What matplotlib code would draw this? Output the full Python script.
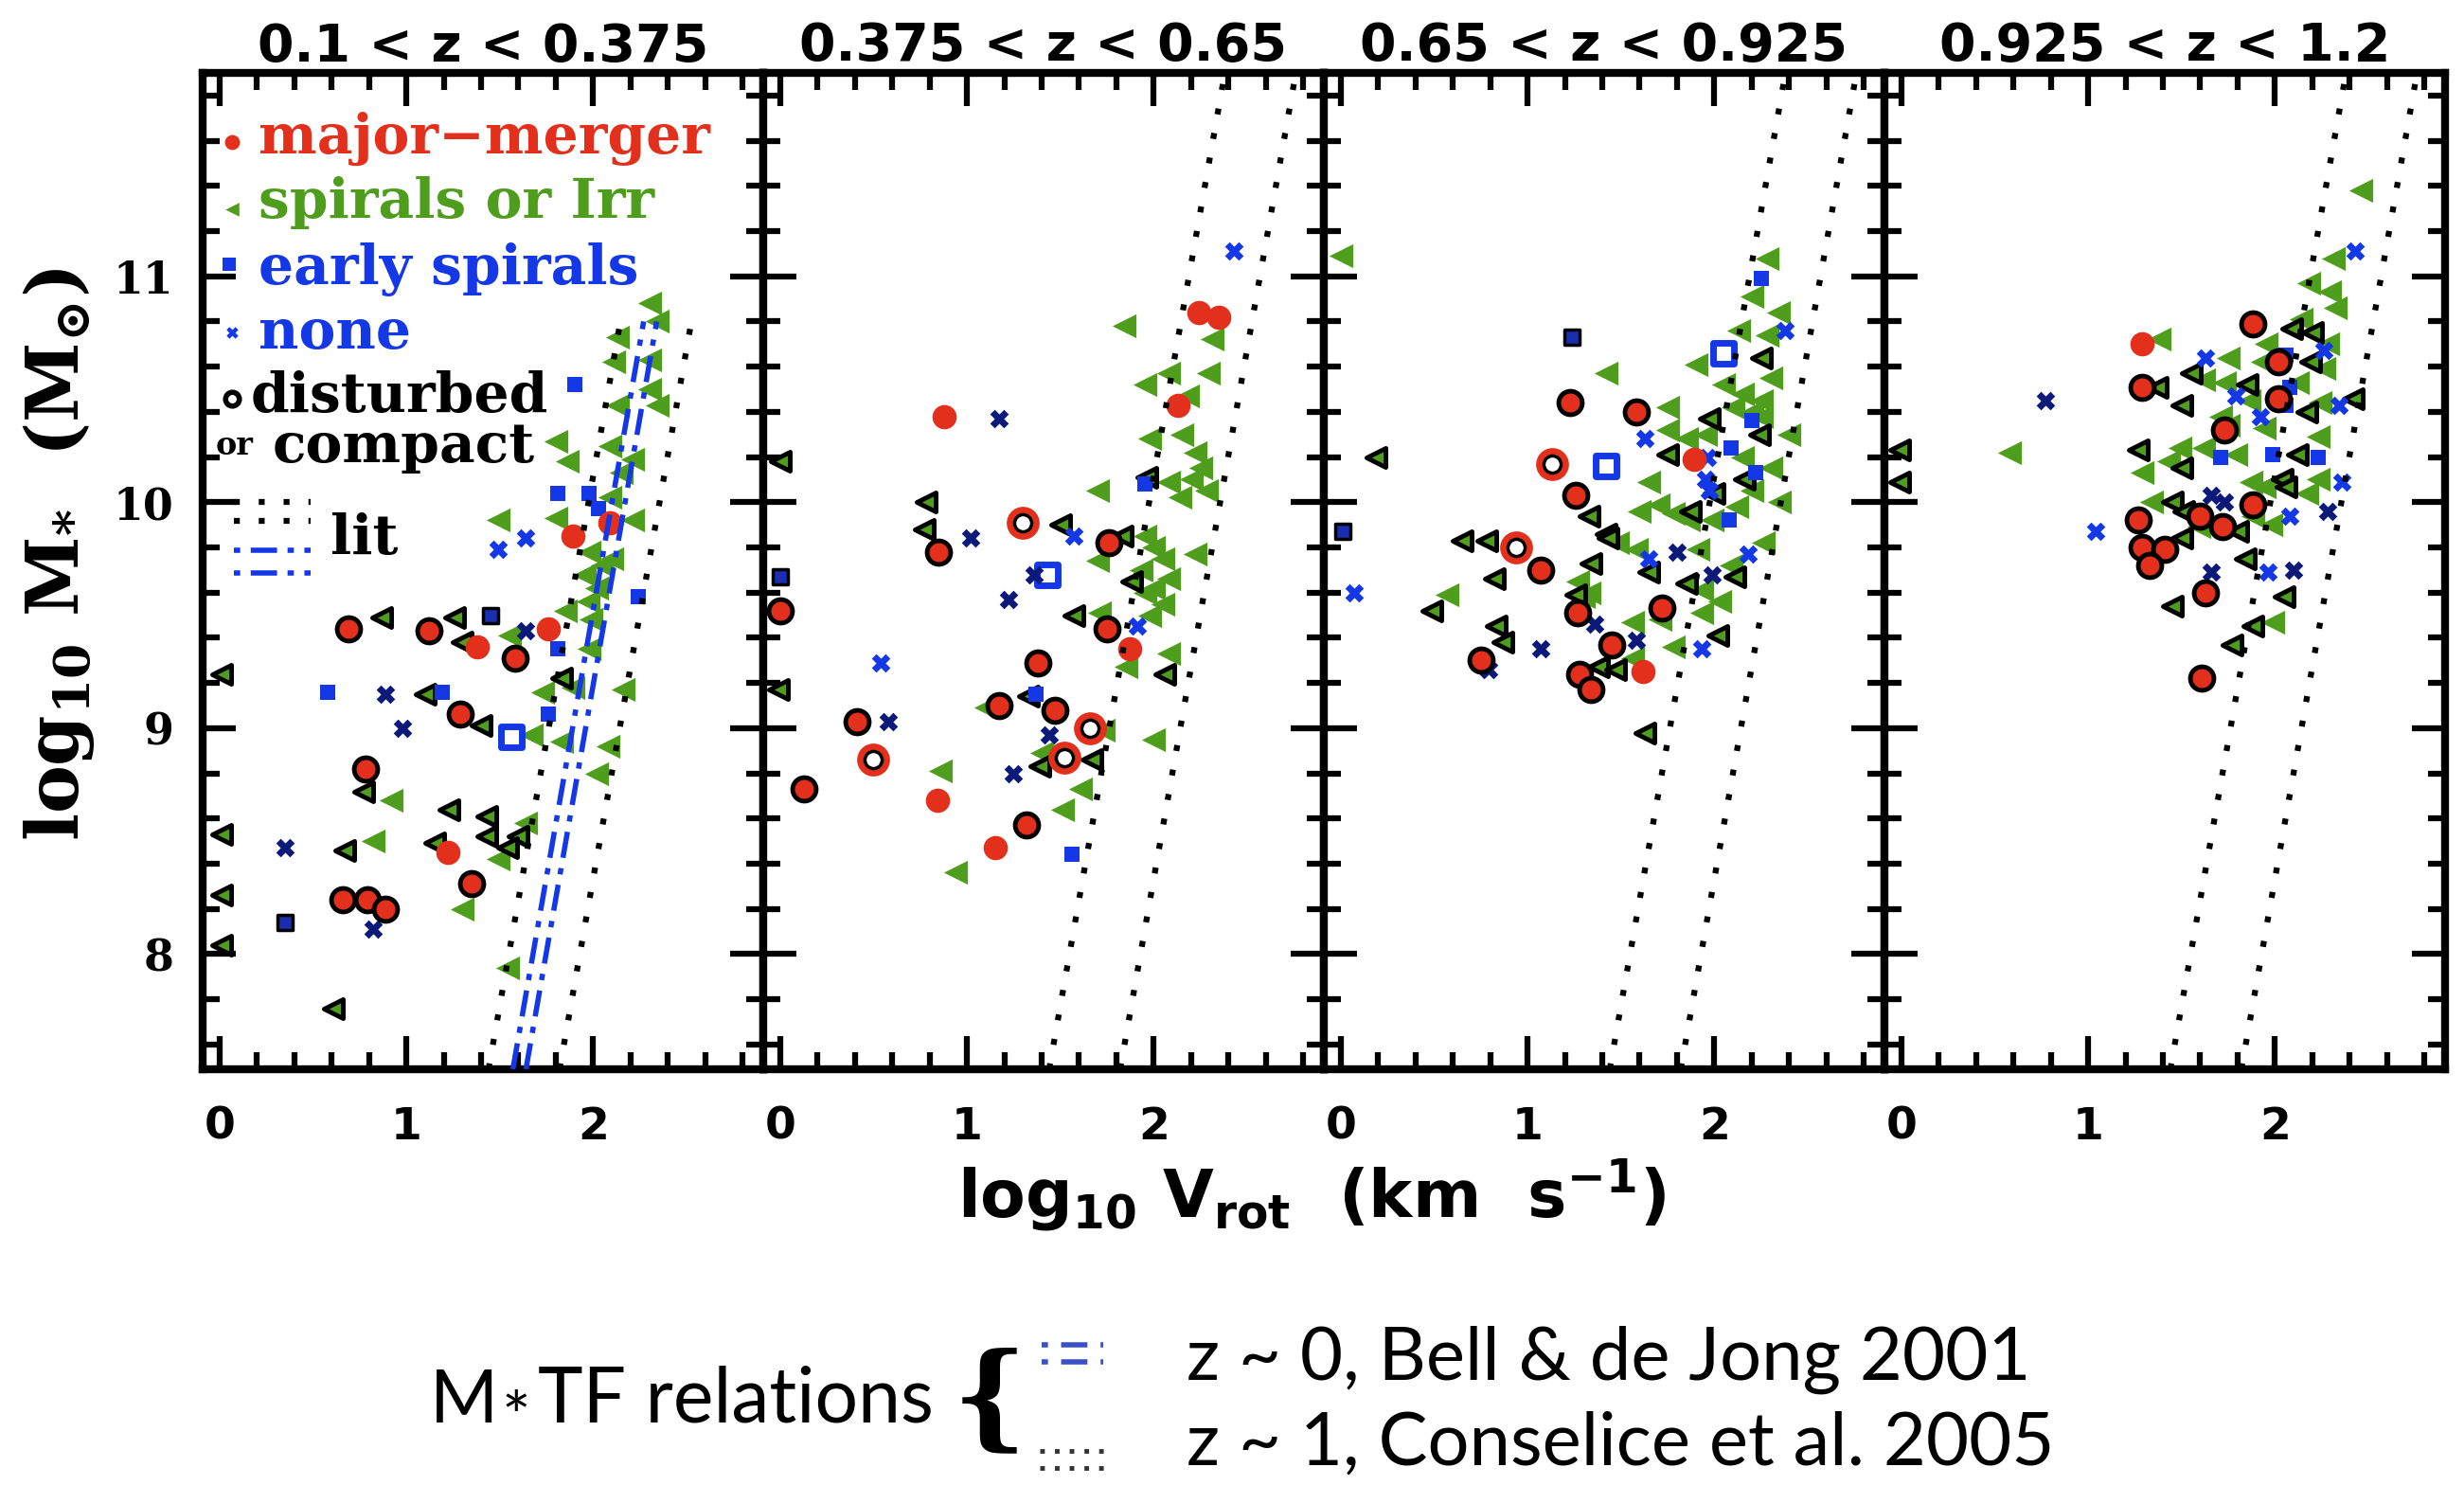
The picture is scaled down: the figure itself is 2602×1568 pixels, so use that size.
import matplotlib
matplotlib.use('Agg')
import matplotlib.pyplot as plt
from matplotlib.lines import Line2D
from matplotlib.ticker import MultipleLocator

plt.rcParams['mathtext.fontset'] = 'custom'
plt.rcParams['mathtext.rm'] = 'DejaVu Serif:bold'
plt.rcParams['mathtext.it'] = 'DejaVu Serif:bold'
plt.rcParams['mathtext.bf'] = 'DejaVu Serif:bold'
plt.rcParams['mathtext.sf'] = 'DejaVu Sans:bold'

# ---- data: (log10 Vrot, log10 M*) ----
titles = ['0.1 < z < 0.375', '0.375 < z < 0.65',
          '0.65 < z < 0.925', '0.925 < z < 1.2']

# z bin 1
merger_1 = [(1.76, 9.44), (1.38, 9.36), (1.22, 8.45), (2.09, 9.91), (1.89, 9.85)]
merger_d_1 = [(0.69, 9.44), (1.12, 9.43), (1.58, 9.31), (1.29, 9.06), (0.78, 8.82),
              (1.35, 8.31), (0.66, 8.24), (0.79, 8.24), (0.89, 8.20)]
ring_1 = []
spiral_1 = [(2.30, 10.88), (2.34, 10.80), (2.13, 10.73), (2.11, 10.62), (2.30, 10.63),
            (2.30, 10.50), (2.13, 10.43), (2.34, 10.43), (1.80, 10.27), (2.09, 10.25),
            (2.21, 10.19), (2.15, 10.13), (1.86, 10.18), (2.09, 10.02), (1.49, 9.92),
            (1.80, 9.93), (2.21, 9.92), (1.98, 9.78), (2.05, 9.72), (2.10, 9.75),
            (1.95, 9.68), (2.02, 9.62), (1.97, 9.56), (1.85, 9.52), (1.99, 9.48),
            (1.55, 9.41), (1.98, 9.35), (1.73, 9.16), (1.89, 9.18), (2.16, 9.17),
            (1.67, 8.97), (1.83, 8.94), (2.08, 8.92), (2.02, 8.80), (0.92, 8.68),
            (1.64, 8.58), (0.82, 8.50), (1.49, 8.42), (1.30, 8.20), (1.54, 7.94)]
spiral_d_1 = [(0.87, 9.49), (1.26, 9.49), (1.30, 9.38), (0.01, 9.24), (1.83, 9.22),
              (1.10, 9.15), (1.40, 9.01), (0.77, 8.72), (1.23, 8.64), (1.43, 8.61),
              (1.43, 8.52), (1.60, 8.52), (0.01, 8.53), (0.67, 8.46), (1.15, 8.49),
              (1.54, 8.47), (0.01, 8.26), (0.01, 8.04), (0.61, 7.76)]
early_1 = [(1.90, 10.52), (1.81, 10.04), (1.98, 10.04), (2.03, 9.97), (2.24, 9.58),
           (1.81, 9.35), (0.58, 9.16), (1.19, 9.16), (1.76, 9.06)]
early_d_1 = [(1.45, 9.50), (0.35, 8.14)]
early_open_1 = [(1.56, 8.96)]
none_1 = [(1.49, 9.79), (1.64, 9.84)]
none_d_1 = [(1.64, 9.43), (0.89, 9.15), (0.98, 9.00), (0.35, 8.47), (0.82, 8.11)]

# z bin 2
merger_2 = [(2.24, 10.84), (2.35, 10.82), (2.13, 10.43), (0.88, 10.38), (1.87, 9.35),
            (0.84, 8.68), (1.15, 8.47)]
merger_d_2 = [(1.76, 9.82), (0.85, 9.78), (0.00, 9.52), (1.75, 9.44), (1.38, 9.29),
              (1.17, 9.10), (1.47, 9.08), (0.41, 9.03), (0.13, 8.73), (1.32, 8.57)]
ring_2 = [(1.30, 9.91), (1.66, 9.00), (0.50, 8.86), (1.52, 8.87)]
spiral_2 = [(1.84, 10.78), (2.31, 10.72), (2.08, 10.57), (2.29, 10.57), (1.95, 10.52),
            (2.18, 10.47), (1.98, 10.28), (2.15, 10.30), (2.22, 10.22), (2.25, 10.15),
            (2.20, 10.10), (2.28, 10.05), (1.70, 10.05), (2.08, 10.09), (2.14, 10.02),
            (1.95, 9.85), (2.00, 9.80), (2.05, 9.75), (1.93, 9.70), (2.08, 9.66),
            (2.00, 9.62), (1.70, 9.74), (2.22, 9.77), (1.95, 9.60), (2.05, 9.55),
            (1.98, 9.50), (1.71, 9.51), (1.85, 9.27), (2.08, 9.33), (1.10, 9.09),
            (1.73, 8.99), (2.00, 8.95), (1.40, 8.89), (0.86, 8.81), (1.61, 8.73),
            (1.51, 8.64), (0.94, 8.36)]
spiral_d_2 = [(0.00, 10.18), (1.96, 10.11), (0.78, 10.00), (1.50, 9.90), (0.77, 9.88),
              (1.83, 9.85), (1.88, 9.65), (1.57, 9.50), (2.06, 9.24), (-0.01, 9.17),
              (1.33, 9.14), (1.67, 8.86), (1.39, 8.83)]
early_2 = [(1.95, 10.08), (1.37, 9.15), (1.56, 8.44)]
early_d_2 = [(0.00, 9.67)]
early_open_2 = [(1.43, 9.68)]
none_2 = [(2.43, 11.11), (1.57, 9.85), (1.91, 9.45), (0.54, 9.29)]
none_d_2 = [(1.17, 10.37), (1.02, 9.84), (1.36, 9.68), (1.22, 9.57), (0.58, 9.03),
            (1.44, 8.97), (1.25, 8.80)]

# z bin 3
merger_3 = [(1.89, 10.19), (1.62, 9.25)]
merger_d_3 = [(1.23, 10.44), (1.58, 10.40), (1.26, 10.03), (1.07, 9.70), (1.27, 9.51),
              (1.45, 9.37), (1.72, 9.53), (0.75, 9.30), (1.28, 9.24), (1.34, 9.17)]
ring_3 = [(1.13, 10.17), (0.94, 9.80)]
spiral_3 = [(0.00, 11.09), (2.28, 11.08), (2.20, 10.91), (2.34, 10.84), (2.13, 10.76),
            (2.28, 10.74), (1.90, 10.61), (1.42, 10.57), (2.05, 10.52), (2.15, 10.48),
            (2.25, 10.45), (2.20, 10.40), (2.10, 10.42), (2.30, 10.55), (2.25, 10.38),
            (1.75, 10.42), (1.75, 10.32), (1.85, 10.28), (1.95, 10.30), (2.40, 10.30),
            (2.15, 10.20), (2.30, 10.15), (2.20, 10.05), (2.35, 10.00), (2.12, 9.98),
            (1.65, 10.09), (1.60, 9.96), (1.78, 9.95), (1.70, 9.99), (1.86, 9.92),
            (1.99, 9.92), (1.48, 9.82), (1.58, 9.79), (1.91, 9.79), (2.26, 9.82),
            (2.09, 9.72), (0.57, 9.59), (1.27, 9.65), (1.33, 9.60), (1.30, 9.58),
            (1.56, 9.47), (1.71, 9.48), (1.56, 9.31), (1.78, 9.36), (1.93, 9.61),
            (2.03, 9.56), (1.93, 9.51)]
spiral_d_3 = [(2.25, 10.64), (1.97, 10.37), (2.24, 10.30), (1.75, 10.21), (0.19, 10.20),
              (2.16, 10.10), (2.00, 10.04), (1.33, 9.94), (1.87, 9.96), (1.42, 9.86),
              (0.65, 9.83), (0.78, 9.83), (0.82, 9.66), (0.49, 9.52), (1.34, 9.73),
              (1.26, 9.59), (0.83, 9.45), (0.87, 9.38), (1.38, 9.27), (1.47, 9.26),
              (2.02, 9.41), (1.85, 9.64), (2.11, 9.67), (1.65, 9.69), (1.43, 9.84),
              (1.63, 8.98)]
early_3 = [(2.25, 10.99), (2.20, 10.36), (2.09, 10.24), (2.22, 10.13), (2.08, 9.92)]
early_d_3 = [(1.24, 10.73), (0.01, 9.87)]
early_open_3 = [(2.05, 10.66), (1.42, 10.16)]
none_3 = [(2.38, 10.76), (1.63, 10.28), (1.96, 10.20), (1.95, 10.10), (1.97, 10.05),
          (1.65, 9.75), (2.18, 9.77), (0.07, 9.60), (1.93, 9.35)]
none_d_3 = [(1.80, 9.78), (1.36, 9.46), (1.07, 9.35), (0.79, 9.26), (1.58, 9.39),
            (1.99, 9.68)]

# z bin 4
merger_4 = [(1.29, 10.70)]
merger_d_4 = [(1.88, 10.79), (2.02, 10.62), (1.29, 10.51), (2.02, 10.46), (1.73, 10.32),
              (1.88, 9.99), (1.27, 9.92), (1.72, 9.89), (1.60, 9.94), (1.29, 9.80),
              (1.41, 9.79), (1.33, 9.72), (1.63, 9.60), (1.61, 9.22)]
ring_4 = []
spiral_4 = [(2.46, 11.38), (2.31, 11.08), (2.18, 10.97), (2.29, 10.93), (2.32, 10.86),
            (2.14, 10.81), (1.38, 10.72), (1.75, 10.64), (1.93, 10.62), (1.95, 10.70),
            (2.28, 10.70), (2.26, 10.59), (1.62, 10.54), (1.73, 10.53), (2.12, 10.53),
            (1.86, 10.45), (2.24, 10.44), (1.71, 10.38), (1.75, 10.34), (1.94, 10.33),
            (2.23, 10.29), (0.58, 10.22), (1.49, 10.24), (1.43, 10.18), (1.62, 10.24),
            (1.79, 10.21), (1.29, 10.13), (1.87, 10.09), (1.94, 10.07), (2.23, 10.10),
            (2.17, 10.04), (1.34, 10.00), (1.88, 9.94), (1.98, 9.90), (1.59, 9.89),
            (1.99, 9.47)]
spiral_d_4 = [(2.09, 10.77), (2.20, 10.75), (2.19, 10.62), (1.55, 10.57), (1.37, 10.51),
              (1.85, 10.52), (1.50, 10.43), (2.42, 10.46), (2.17, 10.40), (-0.01, 10.23),
              (-0.01, 10.09), (1.27, 10.23), (2.12, 10.21), (1.50, 10.15), (2.04, 10.10),
              (2.06, 10.07), (1.45, 10.00), (1.51, 9.96), (1.80, 9.87), (1.50, 9.84),
              (1.84, 9.75), (2.05, 9.58), (1.45, 9.54), (1.88, 9.45), (1.77, 9.37)]
early_4 = [(2.06, 10.65), (2.08, 10.51), (2.06, 10.43), (1.71, 10.20), (1.99, 10.21),
           (2.23, 10.20)]
early_d_4 = []
early_open_4 = []
none_4 = [(2.43, 11.11), (1.63, 10.64), (2.26, 10.67), (1.79, 10.47), (2.34, 10.43),
          (1.92, 10.38), (2.36, 10.09), (2.08, 9.94), (1.04, 9.87), (1.96, 9.69)]
none_d_4 = [(0.77, 10.45), (1.66, 10.03), (1.73, 10.00), (2.28, 9.96), (2.10, 9.70),
            (1.66, 9.69)]

# TF relations: endpoints (logV, logM)
conselice_lo = [(1.44, 7.49), (2.38, 11.90)]
conselice_hi = [(1.82, 7.49), (2.76, 11.90)]
conselice_top_bin1 = 10.8
bell_lo = [(1.57, 7.49), (2.27, 10.80)]
bell_hi = [(1.64, 7.49), (2.34, 10.80)]

panels = [
    (merger_1, merger_d_1, ring_1, spiral_1, spiral_d_1, early_1, early_d_1, early_open_1, none_1, none_d_1),
    (merger_2, merger_d_2, ring_2, spiral_2, spiral_d_2, early_2, early_d_2, early_open_2, none_2, none_d_2),
    (merger_3, merger_d_3, ring_3, spiral_3, spiral_d_3, early_3, early_d_3, early_open_3, none_3, none_d_3),
    (merger_4, merger_d_4, ring_4, spiral_4, spiral_d_4, early_4, early_d_4, early_open_4, none_4, none_d_4),
]

RED = '#e2301c'
GREEN = '#4f9d1d'
BLUE = '#1438e6'
NAVY = '#0b1a78'

W, H = 2602, 1568
fig = plt.figure(figsize=(W / 100, H / 100), dpi=100)


def pts(ax, data, **kw):
    if len(data) == 0:
        return
    v = [p[0] for p in data]
    m = [p[1] for p in data]
    ax.scatter(v, m, **kw)


def seg_line(ax, ends, ymax=None, **kw):
    (x0, y0), (x1, y1) = ends
    if ymax is not None:
        x1 = x0 + (x1 - x0) * (ymax - y0) / (y1 - y0)
        y1 = ymax
    ax.plot([x0, x1], [y0, y1], **kw)


lefts = [214, 806, 1398, 1990]
for k in range(4):
    ax = fig.add_axes([lefts[k] / W, 1 - 1129 / H, 592 / W, 1052 / H])
    merger, merger_d, ring, spiral, spiral_d, early, early_d, early_open, none, none_d = panels[k]

    pts(ax, spiral, marker='<', s=330, c=GREEN, linewidths=0, zorder=3)
    pts(ax, spiral_d, marker='<', s=210, c=GREEN, edgecolors='black', linewidths=3.5, zorder=3)
    pts(ax, early, marker='s', s=140, c=BLUE, linewidths=0, zorder=4)
    pts(ax, early_d, marker='s', s=130, c='#1a2fb0', edgecolors='black', linewidths=2.5, zorder=4)
    pts(ax, early_open, marker='s', s=240, c='white', edgecolors=BLUE, linewidths=5, zorder=4)
    pts(ax, none, marker='X', s=200, c=BLUE, linewidths=0, zorder=4)
    pts(ax, none_d, marker='X', s=200, c=NAVY, linewidths=0, zorder=4)
    pts(ax, merger, marker='o', s=340, c=RED, linewidths=0, zorder=5)
    pts(ax, merger_d, marker='o', s=320, c=RED, edgecolors='black', linewidths=3.5, zorder=5)
    pts(ax, ring, marker='o', s=400, c='white', edgecolors=RED, linewidths=5, zorder=5)
    pts(ax, ring, marker='o', s=170, c='white', edgecolors='black', linewidths=2.5, zorder=5)

    dot = dict(color='black', lw=4.5, linestyle=(0, (1, 3.2)), zorder=6)
    if k == 0:
        seg_line(ax, conselice_lo, conselice_top_bin1, **dot)
        seg_line(ax, conselice_hi, conselice_top_bin1, **dot)
        dash = dict(color=BLUE, lw=4, linestyle=(0, (5, 2, 1.2, 2)), zorder=6)
        seg_line(ax, bell_lo, **dash)
        seg_line(ax, bell_hi, **dash)
    else:
        seg_line(ax, conselice_lo, **dot)
        seg_line(ax, conselice_hi, **dot)

    ax.set_xlim(-0.09, 2.91)
    ax.set_ylim(7.49, 11.90)
    ax.xaxis.set_major_locator(MultipleLocator(1))
    ax.xaxis.set_minor_locator(MultipleLocator(0.2))
    ax.yaxis.set_major_locator(MultipleLocator(1))
    ax.yaxis.set_minor_locator(MultipleLocator(0.2))
    ax.tick_params(which='both', direction='in', top=True, right=True, width=4.5)
    ax.tick_params(which='major', length=25)
    ax.tick_params(which='minor', length=13)
    ax.tick_params(axis='x', pad=28, labelsize=34)
    ax.tick_params(axis='y', pad=22, labelsize=33)
    for lab in ax.get_xticklabels():
        lab.set_fontfamily('DejaVu Sans')
        lab.set_fontweight('bold')
    if k == 0:
        ax.set_yticks([8, 9, 10, 11])
        ax.set_yticklabels(['8', '9', '10', '11'], fontfamily='DejaVu Serif', fontweight='bold')
    else:
        ax.set_yticklabels([])
    for sp in ax.spines.values():
        sp.set_linewidth(6)
    ax.set_title(titles[k], fontsize=40, fontweight='bold', fontfamily='DejaVu Sans', pad=9)

    if k == 0:
        tr = ax.transAxes
        lfs = 42
        ax.scatter([0.052], [0.931], transform=tr, marker='o', s=130, c=RED, linewidths=0, clip_on=False)
        ax.text(0.100, 0.919, 'major\u2212merger', transform=tr, color=RED, fontsize=lfs,
                fontweight='bold', fontfamily='DejaVu Serif', va='baseline')
        ax.scatter([0.052], [0.863], transform=tr, marker='<', s=110, c=GREEN, linewidths=0, clip_on=False)
        ax.text(0.100, 0.855, 'spirals or Irr', transform=tr, color=GREEN, fontsize=lfs,
                fontweight='bold', fontfamily='DejaVu Serif', va='baseline')
        ax.scatter([0.048], [0.808], transform=tr, marker='s', s=90, c=BLUE, linewidths=0, clip_on=False)
        ax.text(0.100, 0.788, 'early spirals', transform=tr, color=BLUE, fontsize=lfs,
                fontweight='bold', fontfamily='DejaVu Serif', va='baseline')
        ax.scatter([0.052], [0.740], transform=tr, marker='X', s=80, c=BLUE, linewidths=0, clip_on=False)
        ax.text(0.100, 0.723, 'none', transform=tr, color=BLUE, fontsize=lfs,
                fontweight='bold', fontfamily='DejaVu Serif', va='baseline')
        ax.scatter([0.052], [0.673], transform=tr, marker='o', s=110, c='white', edgecolors='black',
                   linewidths=4, clip_on=False)
        ax.text(0.085, 0.660, 'disturbed', transform=tr, color='black', fontsize=lfs,
                fontweight='bold', fontfamily='DejaVu Serif', va='baseline')
        ax.text(0.056, 0.617, 'or', transform=tr, color='black', fontsize=24, ha='center',
                fontweight='bold', fontfamily='DejaVu Serif', va='baseline')
        ax.text(0.125, 0.609, 'compact', transform=tr, color='black', fontsize=lfs,
                fontweight='bold', fontfamily='DejaVu Serif', va='baseline')
        for yy in (0.569, 0.550):
            ax.plot([0.056, 0.193], [yy, yy], transform=tr, color='black', lw=4.5,
                    linestyle=(0, (1, 3.2)), clip_on=False)
        for yy in (0.521, 0.498):
            ax.plot([0.056, 0.193], [yy, yy], transform=tr, color=BLUE, lw=4,
                    linestyle=(0, (1.2, 2, 5, 2)), clip_on=False)
        ax.text(0.228, 0.517, 'lit', transform=tr, color='black', fontsize=lfs,
                fontweight='bold', fontfamily='DejaVu Serif', va='baseline')

fig.text(1385 / W, 1 - 1262 / H, r'$\mathsf{log_{10}\ V_{rot}\ \ (km\ \ s^{-1})}$',
         fontsize=50, ha='center', va='center')
fig.text(62 / W, 1 - 585 / H, r'$\mathrm{log_{10}\ M_{*}\ \ (M_{\odot})}$',
         fontsize=55, ha='center', va='center', rotation=90)

# bottom annotation
sans = ['Lato', 'DejaVu Sans']
fig.text(454 / W, 1 - 1502 / H, 'M', fontsize=56, family=sans, va='baseline')
fig.text(530 / W, 1 - 1521 / H, '*', fontsize=52, family=sans, va='baseline')
fig.text(568 / W, 1 - 1502 / H, 'TF relations', fontsize=58, family=sans, va='baseline')
fig.text(1040 / W, 1 - 1483 / H, r'$\{$', fontsize=88, va='center', ha='center')
for yy in (1420, 1438):
    fig.add_artist(Line2D([1100 / W, 1165 / W], [1 - yy / H, 1 - yy / H], color='#3a50c8',
                          lw=4, linestyle=(0, (1.2, 2.5, 5, 2.5))))
for yy in (1532, 1550):
    fig.add_artist(Line2D([1098 / W, 1170 / W], [1 - yy / H, 1 - yy / H], color='#333333',
                          lw=3.5, linestyle=(0, (1, 2.2))))
fig.text(1253 / W, 1 - 1457 / H, 'z ~ 0, Bell & de Jong 2001', fontsize=56, family=sans,
         va='baseline')
fig.text(1253 / W, 1 - 1546 / H, 'z ~ 1, Conselice et al. 2005', fontsize=56, family=sans,
         va='baseline')

fig.savefig('out.png', dpi=100, facecolor='white')
